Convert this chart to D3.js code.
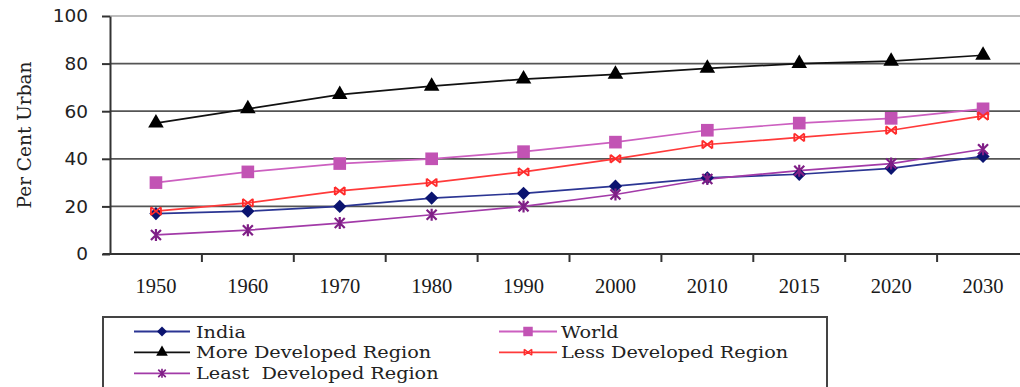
<!DOCTYPE html>
<html>
<head>
<meta charset="utf-8">
<script src="https://cdn.jsdelivr.net/npm/d3@7"></script>
<style>
  html, body { margin: 0; padding: 0; background: #fff; }
  svg { display: block; }
</style>
</head>
<body>
<div id="chart"></div>
<script>
const years = ["1950","1960","1970","1980","1990","2000","2010","2015","2020","2030"];
const india = [17, 18, 20, 23.5, 25.5, 28.5, 32, 33.5, 36, 41];
const world = [30, 34.5, 38, 40, 43, 47, 52, 55, 57, 61];
const moreDev = [55, 61, 67, 70.5, 73.5, 75.5, 78, 80, 81, 83.5];
const lessDev = [18, 21.5, 26.5, 30, 34.5, 40, 46, 49, 52, 58];
const leastDev = [8, 10, 13, 16.5, 20, 25, 31.5, 35, 38, 44];
const yTicks = [0, 20, 40, 60, 80, 100];

const seriesNames = ["India", "World", "More Developed Region", "Less Developed Region", "Least  Developed Region"];

const W = 1020, H = 387;
const svg = d3.select("#chart").append("svg").attr("width", W).attr("height", H);

const x = d3.scaleBand().domain(years).range([110, 1029]);
const y = d3.scaleLinear().domain([0, 100]).range([254, 16]);

// gridlines
svg.append("g").selectAll("line").data(yTicks.filter(d => d > 0)).join("line")
  .attr("x1", 110).attr("x2", 1029)
  .attr("y1", d => y(d)).attr("y2", d => y(d))
  .attr("stroke", d => d === 100 ? "#a8a8a8" : "#555")
  .attr("stroke-width", d => d === 100 ? 1.5 : 1.8);

// y axis
const yAxis = svg.append("g").attr("transform", "translate(110,0)")
  .call(d3.axisLeft(y).tickValues(yTicks).tickSize(8).tickPadding(14).tickSizeOuter(0));
yAxis.select(".domain").attr("stroke", "#333").attr("stroke-width", 2);
yAxis.selectAll(".tick line").attr("stroke", "#333").attr("stroke-width", 2);
yAxis.selectAll(".tick text")
  .attr("font-family", "DejaVu Sans, sans-serif").attr("font-size", 18.5).attr("fill", "#222");

// x axis
const xAxis = svg.append("g").attr("transform", "translate(0,254)")
  .call(d3.axisBottom(x).tickSize(0).tickPadding(24).tickSizeOuter(0));
xAxis.select(".domain").remove();
svg.append("line").attr("x1", 103).attr("x2", 1029).attr("y1", 254).attr("y2", 254)
  .attr("stroke", "#333").attr("stroke-width", 2);
svg.append("g").selectAll("line").data(years.slice(1)).join("line")
  .attr("x1", d => x(d)).attr("x2", d => x(d))
  .attr("y1", 254).attr("y2", 262)
  .attr("stroke", "#333").attr("stroke-width", 2);
xAxis.selectAll(".tick text")
  .attr("font-family", "Liberation Serif, serif").attr("font-size", 20.5).attr("fill", "#1a1a1a");

// y title
svg.append("text")
  .attr("transform", "translate(31,135) rotate(-90)")
  .attr("text-anchor", "middle")
  .attr("font-family", "DejaVu Serif, serif").attr("font-size", 18.5).attr("fill", "#222")
  .text("Per Cent Urban");

// marker drawing
function drawMarker(g, type, color) {
  if (type === "diamond") {
    g.append("path").attr("d", d3.symbol(d3.symbolSquare, 88)()).attr("transform", "rotate(45)")
      .attr("fill", color);
  } else if (type === "square") {
    g.append("path").attr("d", d3.symbol(d3.symbolSquare, 160)()).attr("fill", color);
  } else if (type === "triangle") {
    g.append("path").attr("d", d3.symbol(d3.symbolTriangle, 105)()).attr("fill", color);
  } else if (type === "x") {
    g.append("path").attr("d", "M-5,-4L5,4M-5,4L5,-4M-5,-4L-5,4M5,-4L5,4")
      .attr("stroke", color).attr("stroke-width", 1.8).attr("fill", "none");
  } else if (type === "star") {
    g.append("path").attr("d", "M-5,-5L5,5M-5,5L5,-5M0,-6L0,6")
      .attr("stroke", color).attr("stroke-width", 2.2).attr("fill", "none");
  }
}

const series = [
  { name: seriesNames[0], values: india, line: "#2b3593", marker: "#0b1470", type: "diamond" },
  { name: seriesNames[1], values: world, line: "#cc5fc0", marker: "#c253b4", type: "square" },
  { name: seriesNames[2], values: moreDev, line: "#111", marker: "#000", type: "triangle" },
  { name: seriesNames[3], values: lessDev, line: "#ff3a3a", marker: "#ff2a2a", type: "x" },
  { name: seriesNames[4], values: leastDev, line: "#a23aa8", marker: "#7f1f86", type: "star" }
];

const line = d3.line().x((d, i) => x(years[i]) + x.bandwidth() / 2).y(d => y(d));

series.forEach(s => {
  svg.append("path").datum(s.values).attr("d", line)
    .attr("fill", "none").attr("stroke", s.line).attr("stroke-width", 1.7);
});
series.forEach(s => {
  s.values.forEach((v, i) => {
    const g = svg.append("g")
      .attr("transform", `translate(${x(years[i]) + x.bandwidth() / 2},${y(v)})`);
    drawMarker(g, s.type, s.marker);
  });
});

// legend
svg.append("rect").attr("x", 103).attr("y", 317).attr("width", 724).attr("height", 90)
  .attr("fill", "#fff").attr("stroke", "#444").attr("stroke-width", 2);

const legendPos = [
  { x0: 134, x1: 190, tx: 196, cy: 331.5 },
  { x0: 499, x1: 557, tx: 561, cy: 331.5 },
  { x0: 134, x1: 190, tx: 196, cy: 352.3 },
  { x0: 499, x1: 557, tx: 561, cy: 352.3 },
  { x0: 134, x1: 190, tx: 196, cy: 373.3 }
];
series.forEach((s, i) => {
  const p = legendPos[i];
  svg.append("line").attr("x1", p.x0).attr("x2", p.x1).attr("y1", p.cy).attr("y2", p.cy)
    .attr("stroke", s.line).attr("stroke-width", 1.8);
  const g = svg.append("g").attr("transform", `translate(${(p.x0 + p.x1) / 2},${p.cy})`);
  const gg = g.append("g").attr("transform", "scale(0.75)");
  drawMarker(gg, s.type, s.marker);
  svg.append("text")
    .attr("transform", `translate(${p.tx},${p.cy}) scale(1.1,1)`)
    .attr("dy", "0.35em")
    .attr("font-family", "DejaVu Serif, serif").attr("font-size", 17.5).attr("fill", "#222")
    .style("white-space", "pre")
    .text(s.name);
});
</script>
</body>
</html>
